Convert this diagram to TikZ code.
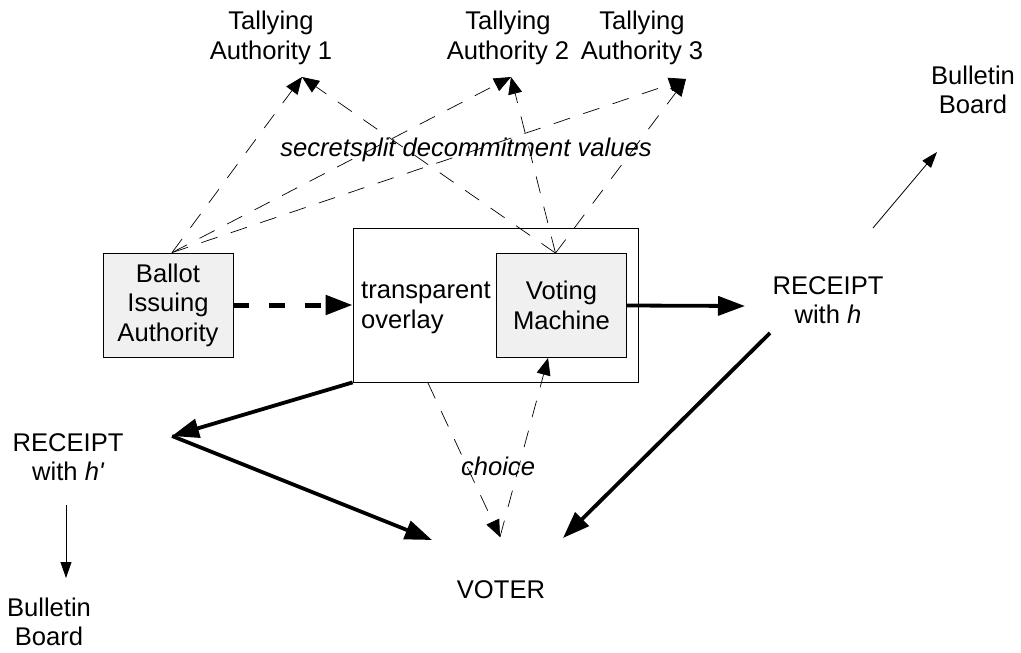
\documentclass[tikz,border=0pt]{standalone}
\usepackage{fontspec}
\setmainfont{Liberation Sans}
\newfontfamily\plainsans{Liberation Sans}
\usetikzlibrary{arrows.meta}

\begin{document}
\begin{tikzpicture}[x=1pt,y=-1pt,
  every node/.style={font=\fontsize{25.6}{29.5}\selectfont, align=center, inner sep=0pt},
  agent/.style={draw, line width=0.8pt, fill=gray!12, minimum width=130pt, minimum height=104pt},
  note/.style={font=\fontsize{25.6}{29.5}\selectfont\itshape},
  thinarr/.style={line width=0.8pt, -{Triangle[length=16pt,width=11pt]}},
  heavyarr/.style={line width=3.8pt, -{Triangle[length=27pt,width=19pt]}},
  shareline/.style={line width=0.7pt, dash pattern=on 17pt off 14pt, -{Triangle[length=17pt,width=14pt]}}]
  \useasboundingbox (0,0) rectangle (1021,653);
  % --- tallying authorities ---
  \node (ta1) at (271,38) {Tallying\\Authority 1};
  \node (ta2) at (508,38) {Tallying\\Authority 2};
  \node (ta3) at (642,38) {Tallying\\Authority 3};
  \coordinate (ta1in) at (302,77);
  \coordinate (ta2in) at (511,77);
  \coordinate (ta3in) at (686,79);
  % --- ballot issuing and voting booth ---
  \node[agent] (bia) at (168,305) {Ballot\\Issuing\\Authority};
  \node[draw, line width=0.8pt, minimum width=285pt, minimum height=154pt] (overlay) at (495.5,305) {};
  \node[anchor=west, align=left] (ovtext) at (361,308) {transparent\\overlay};
  \node[agent] (vm) at (561.5,305.5) {Voting\\Machine};
  % --- receipts, voter, bulletin boards ---
  \node (rh) at (828,300) {RECEIPT\\with \textit{h}};
  \node (rh2) at (68,457) {RECEIPT\\with {\plainsans\itshape h'}};
  \node (voter) at (501,590) {VOTER};
  \node (bb1) at (973,90) {Bulletin\\Board};
  \node (bb2) at (49,622) {Bulletin\\Board};
  \coordinate (rhin) at (745,306);
  \coordinate (rhout) at (770,333);
  \coordinate (rhup) at (873,228);
  \coordinate (bb1in) at (937,152);
  \coordinate (rh2in) at (172,436);
  \coordinate (rh2down) at (66,505);
  \coordinate (bb2in) at (66,578);
  \coordinate (voterL) at (432,540);
  \coordinate (voterR) at (563,538);
  \coordinate (vtop) at (500,537);
  \coordinate (ovout) at (428,383);
  \coordinate (vmin) at (548,358);
  % --- labels ---
  \node[note] (split) at (466,150) {secretsplit decommitment values};
  \node[note] (choice) at (498,466) {choice};
  % --- secret shares to the tallying authorities ---
  \foreach \t in {ta1in,ta2in,ta3in} {
    \draw[shareline] ([xshift=4pt]bia.north) -- (\t);
    \draw[shareline] ([xshift=-6pt]vm.north) -- (\t);
  }
  % --- ballot flow ---
  \draw[heavyarr, line width=5pt, dash pattern=on 16pt off 20pt] (bia.east) -- (bia.east -| overlay.west);
  \draw[heavyarr] (vm.east) -- (rhin);
  \draw[heavyarr] (rhout) -- (voterR);
  \draw[heavyarr] (overlay.south west) -- (rh2in);
  \draw[heavyarr] (rh2in) -- (voterL);
  \draw[thinarr] (rhup) -- (bb1in);
  \draw[thinarr] (rh2down) -- (bb2in);
  % --- voter choice ---
  \draw[shareline] (ovout) -- (vtop);
  \draw[shareline] (vtop) -- (vmin);
\end{tikzpicture}
\end{document}
